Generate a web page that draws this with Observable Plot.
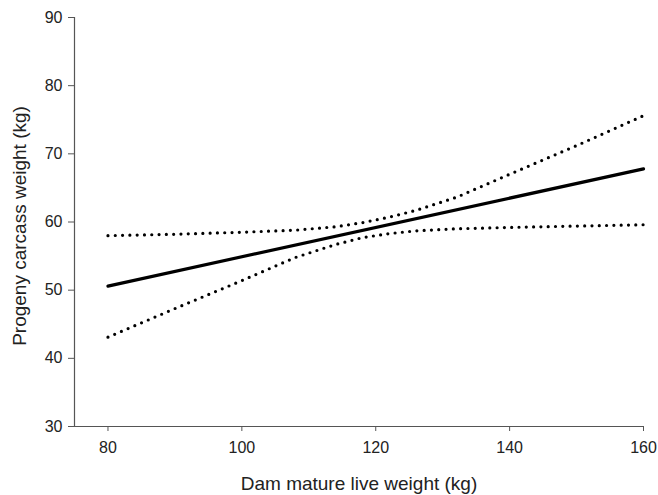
<!DOCTYPE html>
<html>
<head>
<meta charset="utf-8">
<script src="https://cdn.jsdelivr.net/npm/d3@7"></script>
<script src="https://cdn.jsdelivr.net/npm/@observablehq/plot@0.6"></script>
<style>
  html, body { margin: 0; padding: 0; background: #fff; }
  #chart { width: 658px; height: 495px; }
</style>
</head>
<body>
<div id="chart"></div>
<script>
// Fitted regression line (solid)
const fitX = [80, 160];
const fitY = [50.6, 67.8];

// Confidence band (dotted)
const bandX = [80, 90, 100, 108, 114, 118, 122, 126, 132, 140, 150, 160];
const upperY = [58.0, 58.2, 58.5, 58.8, 59.3, 59.9, 60.7, 61.7, 63.6, 67.0, 71.2, 75.6];
const lowerY = [43.1, 47.3, 51.4, 54.8, 56.7, 57.7, 58.3, 58.7, 59.0, 59.2, 59.4, 59.6];

const xTicks = [80, 100, 120, 140, 160];
const yTicks = [30, 40, 50, 60, 70, 80, 90];
const xTitle = "Dam mature live weight (kg)";
const yTitle = "Progeny carcass weight (kg)";

const fit = fitX.map((x, i) => ({x, y: fitY[i]}));
const upper = bandX.map((x, i) => ({x, y: upperY[i]}));
const lower = bandX.map((x, i) => ({x, y: lowerY[i]}));

const font = "Liberation Sans, Arial, Helvetica, sans-serif";
const dotted = {x: "x", y: "y", stroke: "#000", strokeWidth: 3.2, strokeLinecap: "round", strokeDasharray: "0 7.3"};

const chart = Plot.plot({
  width: 658,
  height: 495,
  marginLeft: 74,
  marginRight: 15,
  marginTop: 17,
  marginBottom: 69,
  style: {fontFamily: font, background: "#fff", color: "#222"},
  x: {domain: [75, 160], axis: null},
  y: {domain: [30, 90], axis: null},
  marks: [
    Plot.ruleY([30], {stroke: "#555", strokeWidth: 1.2}),
    Plot.ruleX([75], {stroke: "#555", strokeWidth: 1.2}),
    Plot.axisX(xTicks, {tickSize: 5, tickPadding: 10, fontSize: 16, stroke: "#555", fill: "#222", label: null}),
    Plot.axisY(yTicks, {tickSize: 6, tickPadding: 6, fontSize: 16, stroke: "#555", fill: "#222", label: null}),
    Plot.line(upper, dotted),
    Plot.line(lower, dotted),
    Plot.line(fit, {x: "x", y: "y", stroke: "#000", strokeWidth: 3.2}),
    Plot.text([xTitle], {text: d => d, frameAnchor: "bottom", dy: 57, lineAnchor: "middle", textAnchor: "middle", fontSize: 19, fill: "#222"}),
    Plot.text([yTitle], {text: d => d, frameAnchor: "left", dx: -55, dy: 4, rotate: -90, textAnchor: "middle", lineAnchor: "middle", fontSize: 19, fill: "#222"})
  ]
});
document.getElementById("chart").appendChild(chart);
</script>
</body>
</html>
